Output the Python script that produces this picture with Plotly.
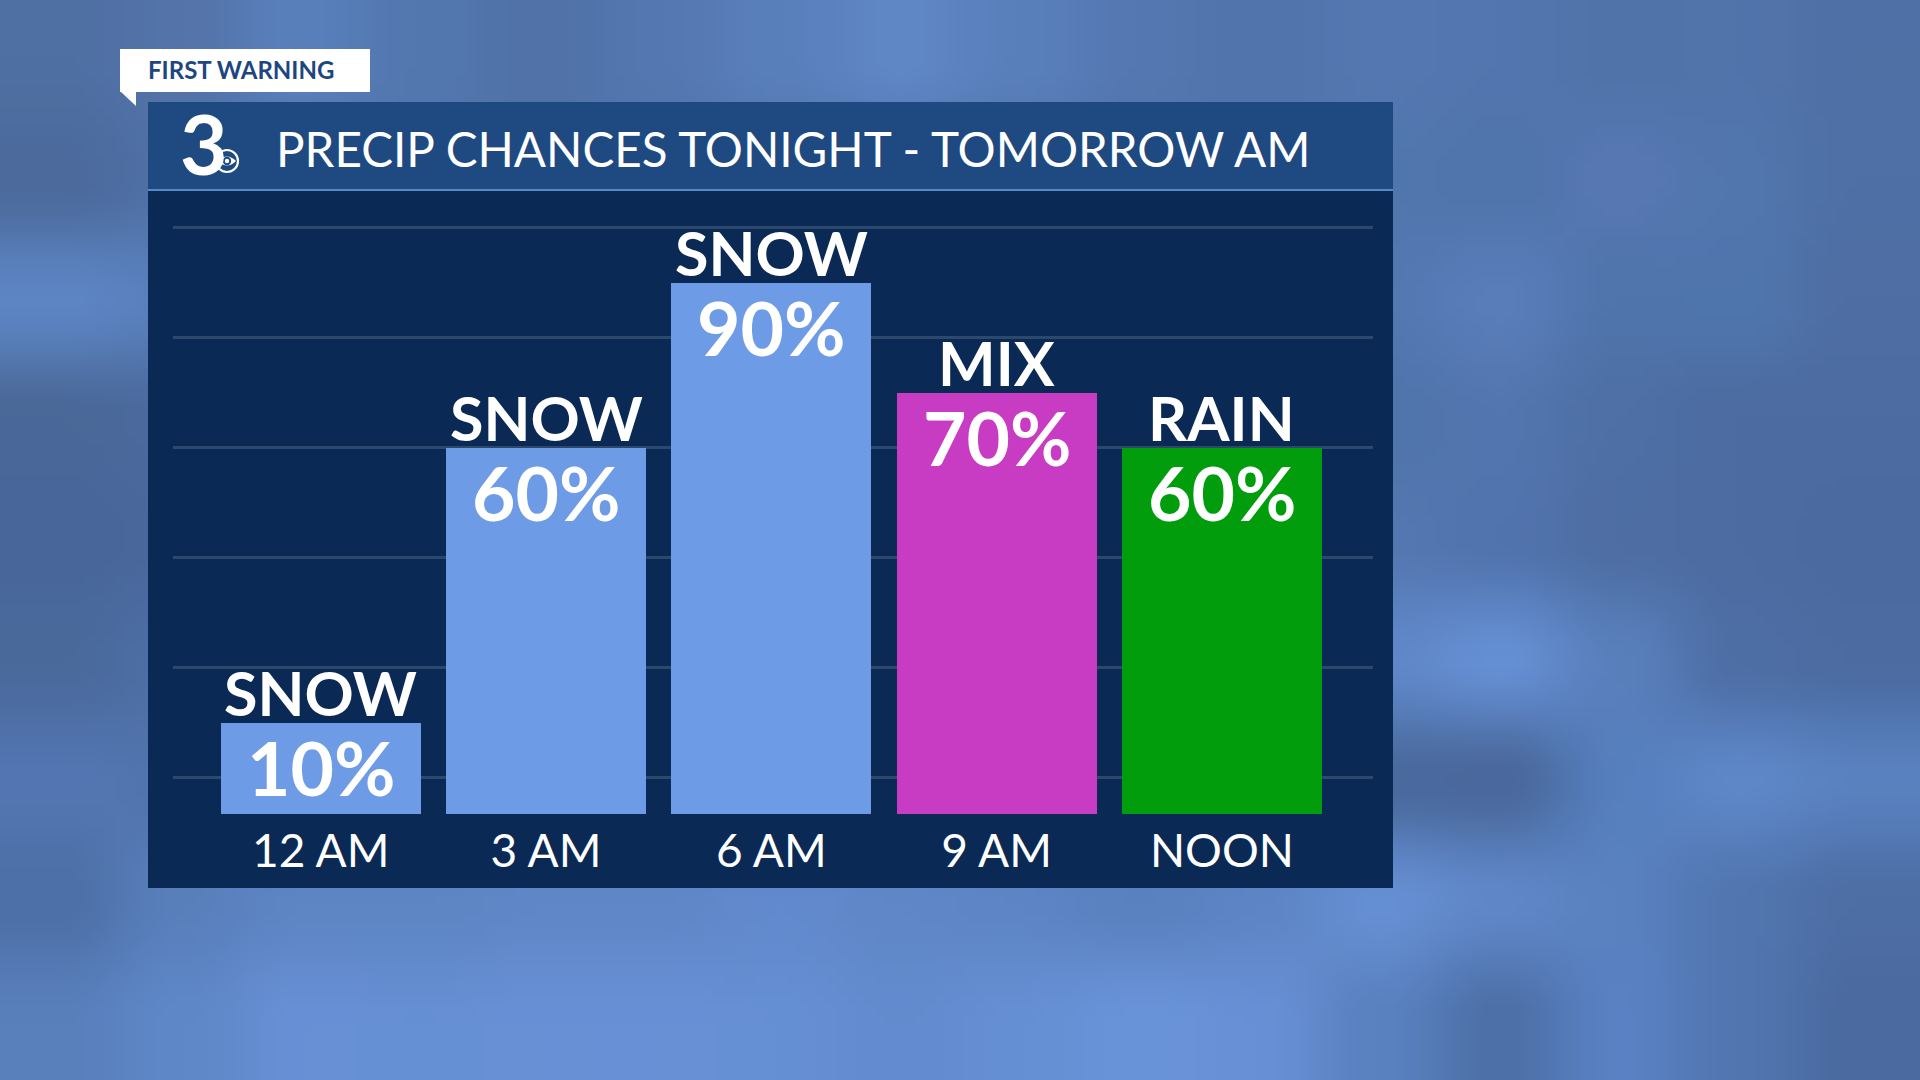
import base64
import struct
import zlib

import numpy as np
import plotly.graph_objects as go

# ---------------- data ----------------
TIMES = ["12 AM", "3 AM", "6 AM", "9 AM", "NOON"]
PRECIP_TYPE = ["SNOW", "SNOW", "SNOW", "MIX", "RAIN"]
CHANCE = [10, 60, 90, 70, 60]
TITLE = "PRECIP CHANCES TONIGHT - TOMORROW AM"
TAG = "FIRST WARNING"

# ---------------- style ----------------
W, H = 1920, 1080
TYPE_COLORS = {"SNOW": "#6e9be6", "MIX": "#c83bc3", "RAIN": "#019d0c"}
BASE = -6.55          # bars start slightly below the 0 gridline
FONT = "Lato"


def px(x):
    return x / W


def py(y):
    return 1 - y / H


# ---------- soft blurred background (generated PNG) ----------
GRID = [
    "4f70a3 5474aa 5a80bc 5378b0 5072a8 5678b2 5a80bc 6088c6 5a80bc 5578b2 5274ac 5578b2 5476b0 5074aa 5274ac 4f70a6",
    "4c6a9c 5072a8 5274ac 5274ac 5274ac 5274ac 5274ac 5274ac 5274ac 5274ac 5274ac 5276ae 5074ac 5878b4 5276ae 4e70a6",
    "5e86c4 5a80bc 5274ac 5274ac 5274ac 5274ac 5274ac 5274ac 5274ac 5274ac 5274ac 5478b2 5a7eba 5074ac 5076ae 4e6ea4",
    "4a6898 4c6a9e 5072a8 5072a8 5072a8 5072a8 5072a8 5072a8 5072a8 5072a8 5072a8 5074ac 5476b0 4e70a6 4c6ca2 4c6ca2",
    "48669a 4a689c 5072a8 5072a8 5072a8 5072a8 5072a8 5072a8 5072a8 5072a8 5072a8 5678b2 5274ae 4e6ea4 4c6ca2 4a6aa0",
    "4a6a9c 4e70a6 5072a8 5072a8 5072a8 5072a8 5072a8 5072a8 5072a8 5072a8 5072a8 6088c8 6590d4 5a80bc 4e6ea6 4c6ca2",
    "5476b2 5274ae 5072a8 5072a8 5072a8 5072a8 5072a8 5072a8 5072a8 5072a8 5072a8 4a6a9e 4a689c 5680be 5e88c8 5a82c0",
    "4e70a8 5a80bc 5e86c4 5e86c4 6088c8 6088c8 628ace 6088c8 5e86c6 5a82c0 5e86c6 6690d4 6088c8 5a82c0 5276b0 4e6ea6",
    "5a80bc 5e88c8 6890d6 6690d4 6890d6 6890d6 6690d4 628ccf 6690d4 6a94da 6890d6 5a82c0 4e70a8 5a82c4 5276b0 4a6aa0",
]


def background_png():
    g = np.array([[[int(c[i:i + 2], 16) for i in (0, 2, 4)] for c in row.split()] for row in GRID], float)
    gh, gw, _ = g.shape
    oh, ow = 108, 192
    gy = np.clip((np.arange(oh) + 0.5) / oh * gh - 0.5, 0, gh - 1)
    gx = np.clip((np.arange(ow) + 0.5) / ow * gw - 0.5, 0, gw - 1)
    y0 = np.minimum(np.floor(gy).astype(int), gh - 2)
    x0 = np.minimum(np.floor(gx).astype(int), gw - 2)
    ty = gy - y0
    tx = gx - x0
    ty = ty * ty * (3 - 2 * ty)
    tx = tx * tx * (3 - 2 * tx)
    a = g[y0][:, x0]
    b = g[y0][:, x0 + 1]
    c = g[y0 + 1][:, x0]
    d = g[y0 + 1][:, x0 + 1]
    tx = tx[None, :, None]
    ty = ty[:, None, None]
    img = (a * (1 - tx) + b * tx) * (1 - ty) + (c * (1 - tx) + d * tx) * ty
    img = np.clip(img, 0, 255).astype(np.uint8)
    raw = b"".join(b"\x00" + img[r].tobytes() for r in range(oh))

    def chunk(t, dat):
        return struct.pack(">I", len(dat)) + t + dat + struct.pack(">I", zlib.crc32(t + dat) & 0xFFFFFFFF)

    png = (b"\x89PNG\r\n\x1a\n"
           + chunk(b"IHDR", struct.pack(">IIBBBBB", ow, oh, 8, 2, 0, 0, 0))
           + chunk(b"IDAT", zlib.compress(raw, 9))
           + chunk(b"IEND", b""))
    return "data:image/png;base64," + base64.b64encode(png).decode()


fig = go.Figure()

fig.add_trace(go.Bar(
    x=TIMES,
    y=[v - BASE for v in CHANCE],
    base=BASE,
    width=0.888,
    marker=dict(color=[TYPE_COLORS[t] for t in PRECIP_TYPE], line=dict(width=0)),
    hoverinfo="skip",
))

annotations = []
for t, kind, v in zip(TIMES, PRECIP_TYPE, CHANCE):
    annotations.append(dict(
        x=t, y=v, xref="x", yref="y", text=f"<b>{kind}</b>", showarrow=False,
        xanchor="center", yanchor="bottom", yshift=-8,
        font=dict(family=FONT, size=61, color="white"),
    ))
    annotations.append(dict(
        x=t, y=v, xref="x", yref="y", text=f"<b>{v}%</b>", showarrow=False,
        xanchor="center", yanchor="top", yshift=3,
        font=dict(family=FONT, size=75, color="white"),
    ))

# title + logo + tag
annotations.append(dict(
    x=px(274), y=py(148), xref="paper", yref="paper", text=TITLE, showarrow=False,
    xanchor="left", yanchor="middle", font=dict(family=FONT, size=47.6, color="white"),
))
annotations.append(dict(
    x=px(204), y=py(143), xref="paper", yref="paper", text="<b>3</b>", showarrow=False,
    xanchor="center", yanchor="middle", font=dict(family=FONT, size=82, color="white"),
))
annotations.append(dict(
    x=px(146), y=py(70), xref="paper", yref="paper", text=f"<b>{TAG}</b>", showarrow=False,
    xanchor="left", yanchor="middle", font=dict(family=FONT, size=24, color="#1d4680"),
))

shapes = [
    # FIRST WARNING tag
    dict(type="rect", x0=px(120), x1=px(370), y0=py(92), y1=py(49), xref="paper", yref="paper",
         fillcolor="white", line=dict(width=0), layer="below"),
    dict(type="path", path=f"M {px(120)} {py(91)} L {px(136)} {py(91)} L {px(136)} {py(106)} Z",
         xref="paper", yref="paper", fillcolor="white", line=dict(width=0), layer="below"),
    # panel
    dict(type="rect", x0=px(148), x1=px(1393), y0=py(888), y1=py(102), xref="paper", yref="paper",
         fillcolor="#0a2a55", line=dict(width=0), layer="below"),
    # title bar
    dict(type="rect", x0=px(148), x1=px(1393), y0=py(189), y1=py(102), xref="paper", yref="paper",
         fillcolor="#1f4981", line=dict(width=0), layer="below"),
    dict(type="rect", x0=px(148), x1=px(1393), y0=py(191), y1=py(189), xref="paper", yref="paper",
         fillcolor="#5a87cb", line=dict(width=0), layer="below"),
]
# CBS eye next to the 3
cx, cy = 227, 161


def circ(r, fill, lw=0, lc="white"):
    return dict(type="circle", xref="paper", yref="paper",
                x0=px(cx - r), x1=px(cx + r), y0=py(cy + r), y1=py(cy - r),
                fillcolor=fill, line=dict(width=lw, color=lc), layer="above")


shapes.append(circ(11, "#1f4981", 2.2))
shapes.append(dict(type="path", xref="paper", yref="paper", layer="above",
                   path=(f"M {px(cx - 9)} {py(cy)} Q {px(cx)} {py(cy - 9)} {px(cx + 9)} {py(cy)} "
                         f"Q {px(cx)} {py(cy + 9)} {px(cx - 9)} {py(cy)} Z"),
                   fillcolor="white", line=dict(width=0)))
shapes.append(circ(4.2, "#1f4981"))
shapes.append(circ(2.2, "white"))

fig.update_layout(
    width=W, height=H,
    margin=dict(l=0, r=0, t=0, b=0, pad=0),
    paper_bgcolor="#5074aa",
    plot_bgcolor="rgba(0,0,0,0)",
    showlegend=False,
    bargap=0,
    annotations=annotations,
    shapes=shapes,
    images=[dict(source=background_png(), xref="paper", yref="paper", x=0, y=1,
                 sizex=1, sizey=1, sizing="stretch", xanchor="left", yanchor="top",
                 layer="below")],
    xaxis=dict(
        domain=[px(173), px(1373)],
        range=[-0.6556, 4.6707],
        type="category",
        showgrid=False, zeroline=False, showline=False,
        ticks="", ticklabelstandoff=6,
        tickfont=dict(family=FONT, size=46, color="white"),
        fixedrange=True,
    ),
    yaxis=dict(
        domain=[py(814), py(190)],
        range=[BASE, 106.9],
        tick0=0, dtick=20,
        showgrid=True, gridcolor="rgba(255,255,255,0.14)", gridwidth=3,
        zeroline=False, showline=False, showticklabels=False,
        fixedrange=True,
    ),
)

fig.write_html("out.html", post_script="document.body.style.margin='0';document.body.style.overflow='hidden';",
               config={"displayModeBar": False})
